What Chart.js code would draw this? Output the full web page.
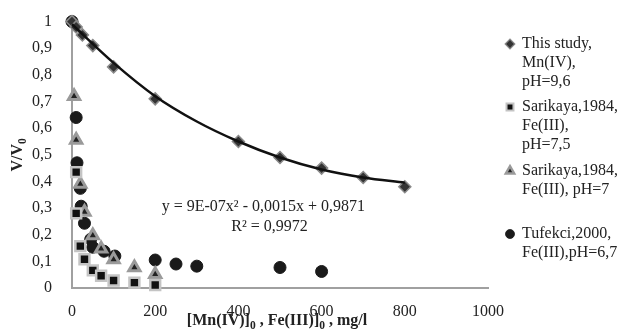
<!DOCTYPE html>
<html>
<head>
<meta charset="utf-8">
<script src="https://cdn.jsdelivr.net/npm/chart.js@4.4.1/dist/chart.umd.min.js"></script>
<style>
  html, body { margin: 0; padding: 0; background: #fff; }
  #wrap { width: 620px; height: 335px; }
</style>
</head>
<body>
<div id="wrap"><canvas id="chart"></canvas></div>
<script>
// This study, Mn(IV), pH=9,6
const studyX = [0, 10, 25, 50, 100, 200, 400, 500, 600, 700, 800];
const studyY = [1.0, 0.98, 0.95, 0.91, 0.83, 0.71, 0.55, 0.49, 0.45, 0.415, 0.38];
// trend line
const trendX = [0, 100, 200, 300, 400, 500, 600, 700, 800];
const trendY = [0.99, 0.845, 0.72, 0.625, 0.55, 0.49, 0.445, 0.415, 0.395];
// Sarikaya 1984, Fe(III), pH=7,5
const sar75X = [10, 10, 20, 30, 50, 70, 100, 150, 200];
const sar75Y = [0.435, 0.28, 0.157, 0.108, 0.066, 0.046, 0.028, 0.02, 0.011];
// Sarikaya 1984, Fe(III), pH=7
const sar7X = [5, 10, 20, 30, 50, 70, 100, 150, 200];
const sar7Y = [0.72, 0.556, 0.39, 0.285, 0.197, 0.147, 0.107, 0.077, 0.052];
// Tufekci 2000, Fe(III), pH=6,7
const tufX = [0, 10, 12, 20, 22, 30, 45, 50, 77, 103, 200, 250, 300, 500, 600];
const tufY = [1.0, 0.64, 0.47, 0.374, 0.307, 0.243, 0.183, 0.153, 0.138, 0.12, 0.105, 0.09, 0.082, 0.077, 0.062];

const xTicks = [0, 200, 400, 600, 800, 1000];
const legendLines = [
  ['This study,', 'Mn(IV),', 'pH=9,6'],
  ['Sarikaya,1984,', 'Fe(III),', 'pH=7,5'],
  ['Sarikaya,1984,', 'Fe(III), pH=7'],
  ['Tufekci,2000,', 'Fe(III),pH=6,7']
];
const eqText = 'y = 9E-07x² - 0,0015x + 0,9871';
const r2Text = 'R² = 0,9972';

const FONT = '"Liberation Serif", "Times New Roman", serif';
const pts = (xs, ys) => xs.map((x, i) => ({x, y: ys[i]}));

const markers = [
  {pointStyle: 'rectRot', radius: 6, backgroundColor: '#333', borderColor: '#8a8a8a', borderWidth: 1.5},
  {pointStyle: 'rect', radius: 7, backgroundColor: '#111', borderColor: '#c4c4c4', borderWidth: 2.5},
  {pointStyle: 'triangle', radius: 6.5, backgroundColor: '#222', borderColor: '#9a9a9a', borderWidth: 3},
  {pointStyle: 'circle', radius: 6, backgroundColor: '#1a1a1a', borderColor: '#1a1a1a', borderWidth: 1}
];
const legendScale = [0.8, 0.7, 0.75, 0.75];

function scatterSet(data, m) {
  return {
    type: 'scatter', data, showLine: false, clip: false,
    pointStyle: m.pointStyle, pointRadius: m.radius,
    pointBackgroundColor: m.backgroundColor, pointBorderColor: m.borderColor,
    pointBorderWidth: m.borderWidth
  };
}

function drawRich(ctx, parts, x, y, size, bold) {
  let cx = x;
  parts.forEach(([t, sub]) => {
    const s = sub ? size * 0.72 : size;
    ctx.font = (bold ? 'bold ' : '') + s + 'px ' + FONT;
    ctx.fillText(t, cx, sub ? y + size * 0.3 : y);
    cx += ctx.measureText(t).width;
  });
  return cx - x;
}
function richWidth(ctx, parts, size, bold) {
  let w = 0;
  parts.forEach(([t, sub]) => {
    ctx.font = (bold ? 'bold ' : '') + (sub ? size * 0.72 : size) + 'px ' + FONT;
    w += ctx.measureText(t).width;
  });
  return w;
}

const extras = {
  id: 'extras',
  afterDraw(chart) {
    const ctx = chart.ctx;
    const xs = chart.scales.x, ys = chart.scales.y;
    const area = chart.chartArea;
    ctx.save();
    ctx.fillStyle = '#222';
    ctx.textBaseline = 'middle';

    // equation text
    ctx.font = '16px ' + FONT;
    ctx.textAlign = 'center';
    ctx.fillText(eqText, xs.getPixelForValue(460), ys.getPixelForValue(0.303));
    ctx.fillText(r2Text, xs.getPixelForValue(475), ys.getPixelForValue(0.228));

    // x title
    ctx.textAlign = 'left';
    const xt = [['[Mn(IV)]', 0], ['0', 1], [' , Fe(III)]', 0], ['0', 1], [' , mg/l', 0]];
    const xw = richWidth(ctx, xt, 16, true);
    drawRich(ctx, xt, (area.left + area.right) / 2 - xw / 2 - 3, 321, 16, true);

    // y title, rotated
    ctx.save();
    ctx.translate(18, (area.top + area.bottom) / 2);
    ctx.rotate(-Math.PI / 2);
    const yt = [['V/V', 0], ['0', 1]];
    const yw = richWidth(ctx, yt, 16, true);
    drawRich(ctx, yt, -yw / 2, 0, 16, true);
    ctx.restore();

    // legend
    const tops = [44, 107, 171, 234];
    legendLines.forEach((lines, i) => {
      const m = markers[i], k = legendScale[i];
      ctx.fillStyle = m.backgroundColor;
      ctx.strokeStyle = m.borderColor;
      ctx.lineWidth = m.borderWidth * 0.8;
      Chart.helpers.drawPoint(ctx, {pointStyle: m.pointStyle, radius: m.radius * k, borderWidth: m.borderWidth * 0.8, rotation: 0}, 510, tops[i]);
      ctx.fillStyle = '#222';
      ctx.font = '16px ' + FONT;
      ctx.textAlign = 'left';
      lines.forEach((t, j) => ctx.fillText(t, 522, tops[i] + j * 19));
    });
    ctx.restore();
  }
};

new Chart(document.getElementById('chart'), {
  type: 'scatter',
  data: {
    datasets: [
      {type: 'line', data: pts(trendX, trendY), borderColor: '#111', borderWidth: 2.5,
       pointRadius: 0, cubicInterpolationMode: 'monotone', fill: false, clip: false},
      scatterSet(pts(studyX, studyY), markers[0]),
      scatterSet(pts(sar75X, sar75Y), markers[1]),
      scatterSet(pts(sar7X, sar7Y), markers[2]),
      scatterSet(pts(tufX, tufY), markers[3])
    ]
  },
  options: {
    responsive: true,
    maintainAspectRatio: false,
    animation: false,
    layout: {padding: {left: 0, right: 132, top: 20, bottom: 0}},
    plugins: {legend: {display: false}, tooltip: {enabled: false}},
    scales: {
      x: {
        type: 'linear', min: 0, max: 1000,
        afterBuildTicks: s => { s.ticks = xTicks.map(v => ({value: v})); },
        afterFit: s => { s.height = 47; },
        grid: {display: false},
        border: {display: true, color: '#a0a0a0', width: 2},
        ticks: {color: '#222', padding: 6, font: {family: FONT, size: 16}, maxRotation: 0,
                callback: v => String(v)}
      },
      y: {
        min: 0, max: 1,
        afterFit: s => { s.width = 72; },
        grid: {display: false},
        border: {display: true, color: '#a0a0a0', width: 2},
        ticks: {
          stepSize: 0.1, color: '#222', padding: 12, font: {family: FONT, size: 16},
          callback: v => String(Math.round(v * 10) / 10).replace('.', ',')
        }
      }
    }
  },
  plugins: [extras]
});
</script>
</body>
</html>
